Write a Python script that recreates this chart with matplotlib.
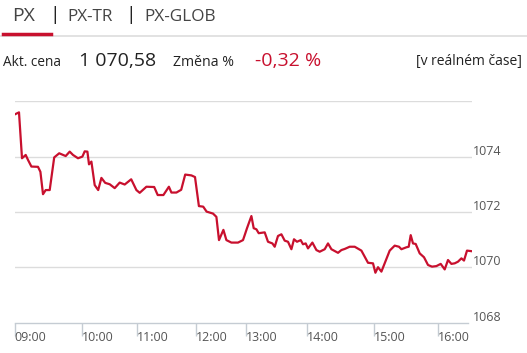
import numpy as np
import matplotlib.pyplot as plt

plt.rcParams['font.family'] = ['Open Sans', 'DejaVu Sans']

# data (x = trade sample position, y = index value)
x_pos = [0.3, 4.3, 7.3, 11, 13.3, 16.7, 23.3, 25.7, 28.3, 31, 35, 39.5, 44.5, 51, 55,
         58.3, 63.3, 67.7, 70, 72.7, 74.3, 76.7, 80, 83.5, 86.7, 90.5, 95, 100, 105,
         110, 116.5, 121.7, 125, 131.7, 139.5, 143, 148.7, 154.2, 156.7, 161.7, 166.5,
         170.5, 176.7, 180.3, 184.2, 188.5, 191.9, 198.3, 201.7, 204.3, 208.7, 211.7,
         216.7, 223.3, 228.3, 230, 232.3, 236.7, 239, 241.7, 244, 250, 253.3, 257.7,
         260, 263.3, 266.7, 270, 273.3, 276.7, 279.3, 282.3, 286, 288.3, 291, 293.3,
         297.7, 301.7, 305, 310, 313.3, 316.7, 323.3, 326.7, 330, 335, 340, 346.7, 350,
         353.3, 358.3, 360.7, 363.3, 366.7, 375, 380, 384.3, 386.7, 391.7, 394, 396,
         398.3, 401, 405, 409.3, 413.3, 417.3, 421.7, 426, 430, 433.3, 436.7, 440,
         443.3, 446.7, 449.3, 452.3, 456.7]
px_vals = [1075.53, 1075.60, 1073.94, 1074.06, 1073.88, 1073.64, 1073.63, 1073.45,
           1072.64, 1072.79, 1072.79, 1073.97, 1074.12, 1074.02, 1074.18, 1074.06,
           1073.94, 1074.00, 1074.19, 1074.18, 1073.72, 1073.82, 1072.97, 1072.79,
           1073.23, 1073.05, 1073.00, 1072.86, 1073.06, 1072.99, 1073.18, 1072.79,
           1072.69, 1072.91, 1072.90, 1072.61, 1072.61, 1072.91, 1072.70, 1072.70,
           1072.80, 1073.35, 1073.32, 1073.26, 1072.21, 1072.19, 1072.01, 1071.94,
           1071.82, 1070.98, 1071.35, 1070.98, 1070.89, 1070.89, 1070.98, 1071.16,
           1071.41, 1071.85, 1071.41, 1071.37, 1071.23, 1071.26, 1070.92, 1070.86,
           1070.74, 1071.13, 1071.19, 1070.96, 1070.92, 1070.65, 1071.01, 1070.92,
           1070.98, 1070.83, 1070.86, 1070.68, 1070.89, 1070.62, 1070.56, 1070.65,
           1070.86, 1070.65, 1070.52, 1070.62, 1070.66, 1070.74, 1070.74, 1070.60,
           1070.38, 1070.16, 1070.14, 1069.80, 1070.00, 1069.84, 1070.60, 1070.78,
           1070.74, 1070.65, 1070.72, 1070.74, 1071.16, 1070.86, 1070.84, 1070.50,
           1070.36, 1070.08, 1070.02, 1070.04, 1070.12, 1069.92, 1070.26, 1070.12,
           1070.14, 1070.20, 1070.32, 1070.24, 1070.60, 1070.58]
hour_pos = [0, 67, 122.6, 181, 231.6, 292, 359.6, 423]
hour_labels = ['09:00', '10:00', '11:00', '12:00', '13:00', '14:00', '15:00', '16:00']
y_grid = [1068, 1070, 1072, 1074, 1076]
y_labels = ['1068', '1070', '1072', '1074']

tabs = ['PX', 'PX-TR', 'PX-GLOB']
price = '1 070,58'
change = '-0,32 %'

RED = '#c8102e'

fig = plt.figure(figsize=(5.27, 3.53), dpi=100)
W, H = 527, 353

def fx(px):
    return px / W

def fy(py):
    return 1 - py / H

# header tabs
fig.text(fx(12), fy(16), tabs[0], fontsize=14, color='#444444', va='center')
fig.text(fx(49), fy(15), '|', fontsize=14, color='#222222', va='center')
fig.text(fx(67), fy(17), tabs[1], fontsize=12.3, color='#444444', va='center')
fig.text(fx(125), fy(15), '|', fontsize=14, color='#222222', va='center')
fig.text(fx(144), fy(17), tabs[2], fontsize=12.4, color='#444444', va='center')
fig.add_artist(plt.Line2D([fx(0), fx(527)], [fy(36), fy(36)], color='#dddddd', lw=1.2))
fig.add_artist(plt.Line2D([fx(3), fx(51)], [fy(34), fy(34)], color=RED, lw=2.5))

# price row
fig.text(fx(3), fy(62), 'Akt. cena', fontsize=9.8, color='#222222', va='center')
fig.text(fx(79), fy(61), price, fontsize=14, color='#222222', va='center')
fig.text(fx(173), fy(62), 'Změna %', fontsize=10.2, color='#222222', va='center')
fig.text(fx(255), fy(61), change, fontsize=14, color=RED, va='center')
fig.text(fx(522), fy(62), '[v reálném čase]', fontsize=10, color='#222222',
         va='center', ha='right')

# chart
ax = fig.add_axes([fx(14.7), fy(322.5), fx(472 - 14.7), (322.5 - 101.3) / H])
ax.set_xlim(0, 457.3)
ax.set_ylim(1068, 1076)

for g in y_grid[1:]:
    ax.axhline(g, color='#dcdcdc', lw=1, zorder=1)

ax.plot(x_pos, px_vals, color=RED, lw=1.6, zorder=3, solid_joinstyle='round')

for lab in y_labels:
    ax.text(1.003, (float(lab) - 1068) / 8 + 0.009, lab, transform=ax.transAxes,
            fontsize=9, color='#555555', ha='left', va='baseline')

for s in ['top', 'right', 'left']:
    ax.spines[s].set_visible(False)
ax.spines['bottom'].set_color('#c5ccd3')
ax.spines['bottom'].set_linewidth(1)
ax.spines['bottom'].set_bounds(0, 453)
ax.set_yticks([])
ax.set_xticks(hour_pos)
ax.set_xticklabels(hour_labels, fontsize=9, color='#555555', ha='left')
ax.tick_params(axis='x', length=9, width=1, color='#c5ccd3', pad=-3)

fig.savefig('out.png', dpi=100)
